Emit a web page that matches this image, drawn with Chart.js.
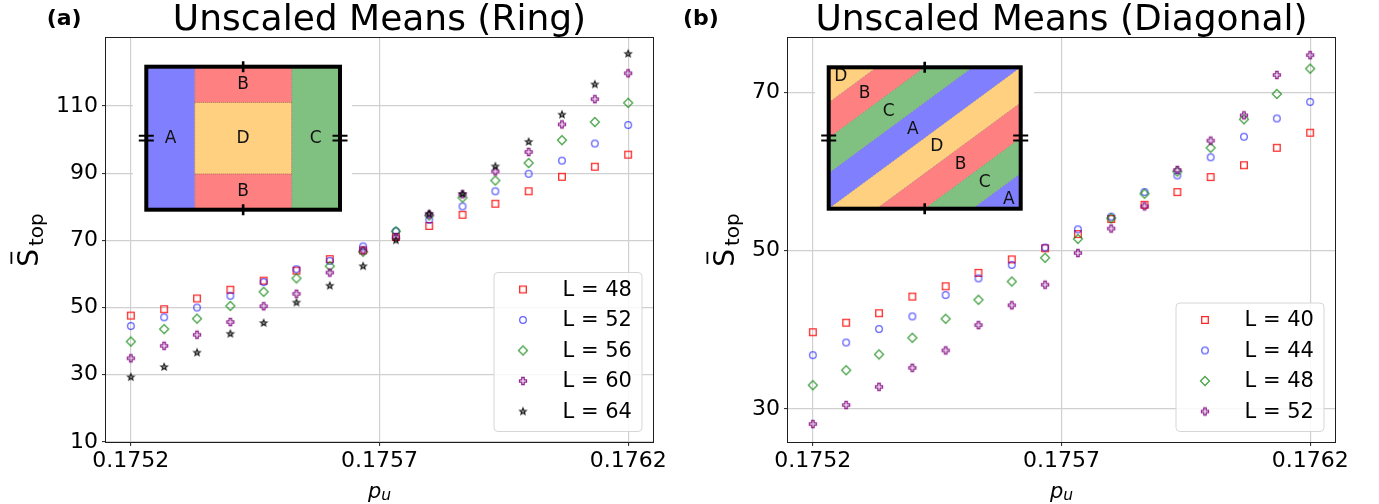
<!DOCTYPE html>
<html>
<head>
<meta charset="utf-8">
<script src="https://cdn.jsdelivr.net/npm/chart.js@4.4.1/dist/chart.umd.min.js"></script>
<style>
  html, body { margin: 0; padding: 0; background: #fff; }
  #wrap { position: relative; width: 1379px; height: 504px; overflow: hidden; background: #fff; }
  #wrap canvas { position: absolute; top: 0; }
</style>
</head>
<body>
<div id="wrap">
  <canvas id="ring" width="670" height="504" style="left:0px"></canvas>
  <canvas id="diag" width="709" height="504" style="left:670px"></canvas>
</div>
<script>
// ---- data -------------------------------------------------------------
const pu = [0.175200, 0.175267, 0.175333, 0.175400, 0.175467, 0.175533, 0.175600, 0.175667,
            0.175733, 0.175800, 0.175867, 0.175933, 0.176000, 0.176067, 0.176133, 0.176200];

// (a) ring geometry
const ringLabels = ['L = 48', 'L = 52', 'L = 56', 'L = 60', 'L = 64'];
const ringL48 = [47.6, 49.5, 52.7, 55.3, 58.0, 61.0, 64.4, 67.0, 71.0, 74.3, 77.6, 80.9, 84.6, 88.9, 91.9, 95.5];
const ringL52 = [44.5, 47.1, 50.0, 53.5, 57.6, 61.4, 63.9, 68.2, 72.7, 76.1, 80.1, 84.6, 89.8, 93.7, 98.8, 104.3];
const ringL56 = [39.9, 43.6, 46.7, 50.5, 54.7, 58.7, 62.3, 66.6, 72.7, 77.4, 82.7, 87.8, 93.0, 99.8, 105.2, 110.9];
const ringL60 = [34.9, 38.6, 41.9, 45.7, 50.4, 54.1, 60.4, 67.0, 71.0, 77.7, 83.7, 90.5, 96.3, 104.5, 112.0, 119.7];
const ringL64 = [29.3, 32.3, 36.6, 42.2, 45.4, 51.5, 56.5, 62.3, 70.0, 77.9, 83.8, 92.0, 99.3, 107.4, 116.4, 125.5];
const ringYTicks = [10, 30, 50, 70, 90, 110];

// (b) diagonal geometry
const diagLabels = ['L = 40', 'L = 44', 'L = 48', 'L = 52'];
const diagL40 = [39.7, 40.9, 42.1, 44.2, 45.5, 47.2, 48.9, 50.3, 52.1, 54.0, 55.8, 57.4, 59.3, 60.8, 63.0, 64.9];
const diagL44 = [36.8, 38.4, 40.1, 41.7, 44.4, 46.5, 48.2, 50.4, 52.7, 54.3, 57.4, 59.5, 61.8, 64.4, 66.7, 68.8];
const diagL48 = [33.0, 34.9, 36.9, 39.0, 41.4, 43.8, 46.1, 49.1, 51.5, 54.1, 57.2, 60.0, 63.0, 66.6, 69.8, 73.0];
const diagL52 = [28.1, 30.5, 32.8, 35.2, 37.4, 40.6, 43.1, 45.7, 49.7, 52.8, 55.6, 60.2, 63.9, 67.1, 72.2, 74.7];
const diagYTicks = [30, 50, 70];

const xTicks = [0.1752, 0.1757, 0.1762];

// ---- styling ----------------------------------------------------------
const FONT = 'DejaVu Sans, Verdana, sans-serif';
Chart.defaults.font.family = FONT;

const STYLE = [
  { kind: 'square',  color: 'rgba(255,0,0,0.85)' },
  { kind: 'circle',  color: 'rgba(0,0,255,0.62)' },
  { kind: 'diamond', color: 'rgba(0,128,0,0.72)' },
  { kind: 'plus',    color: 'rgba(128,0,128,0.85)' },
  { kind: 'star',    color: 'rgba(0,0,0,0.85)' }
];

function traceShape(g, kind, cx, cy) {
  g.beginPath();
  if (kind === 'square') {
    g.rect(cx - 3.3, cy - 3.3, 6.6, 6.6);
  } else if (kind === 'circle') {
    g.arc(cx, cy, 3.3, 0, Math.PI * 2);
  } else if (kind === 'diamond') {
    g.moveTo(cx, cy - 4.5); g.lineTo(cx + 4.5, cy); g.lineTo(cx, cy + 4.5); g.lineTo(cx - 4.5, cy); g.closePath();
  } else if (kind === 'plus') {
    const a = 1.2, e = 3.5;
    const pts = [[-a,-e],[a,-e],[a,-a],[e,-a],[e,a],[a,a],[a,e],[-a,e],[-a,a],[-e,a],[-e,-a],[-a,-a]];
    pts.forEach((p, i) => i ? g.lineTo(cx + p[0], cy + p[1]) : g.moveTo(cx + p[0], cy + p[1]));
    g.closePath();
  } else if (kind === 'star') {
    for (let i = 0; i < 10; i++) {
      const r = i % 2 ? 1.5 : 3.5;
      const ang = -Math.PI / 2 + i * Math.PI / 5;
      const px = cx + r * Math.cos(ang), py = cy + r * Math.sin(ang);
      i ? g.lineTo(px, py) : g.moveTo(px, py);
    }
    g.closePath();
  }
}

function makeMarker(kind, color) {
  const c = document.createElement('canvas');
  c.width = 14; c.height = 14;
  const g = c.getContext('2d');
  g.strokeStyle = color;
  g.lineWidth = kind === 'star' ? 1.1 : 1.3;
  g.lineJoin = 'miter';
  traceShape(g, kind, 7, 7);
  if (kind === 'star') {
    g.fillStyle = 'rgba(60,60,60,0.55)';
    g.fill();
  }
  g.stroke();
  return c;
}
const MARKERS = STYLE.map(s => makeMarker(s.kind, s.color));

// ---- decoration: insets, legend, spines, titles, axis names -----------
const REGION = { A: '#8080ff', B: '#ff8080', C: '#80c080', D: '#ffd080' };

function insetFrame(ctx, bx, by, bw, bh) {
  ctx.strokeStyle = '#000';
  ctx.lineWidth = 4;
  ctx.strokeRect(bx, by, bw, bh);
  // periodic-boundary marks
  ctx.lineWidth = 2.6;
  ctx.beginPath();
  ctx.moveTo(bx + bw / 2, by - 5.5); ctx.lineTo(bx + bw / 2, by + 5.5);
  ctx.moveTo(bx + bw / 2, by + bh - 5.5); ctx.lineTo(bx + bw / 2, by + bh + 5.5);
  ctx.stroke();
  ctx.lineWidth = 2;
  ctx.beginPath();
  [bx, bx + bw].forEach(x => {
    [-2.4, 2.4].forEach(d => {
      ctx.moveTo(x - 7.5, by + bh / 2 + d); ctx.lineTo(x + 7.5, by + bh / 2 + d);
    });
  });
  ctx.stroke();
}

function insetLetter(ctx, t, x, y) {
  ctx.fillStyle = '#111';
  ctx.font = '17px ' + FONT;
  ctx.textAlign = 'center';
  ctx.textBaseline = 'middle';
  ctx.fillText(t, x, y);
}

function drawRingInset(ctx, ca) {
  ctx.save();
  ctx.fillStyle = '#fff';
  ctx.fillRect(ca.left + 27, ca.top + 18, 219, 164);
  const bx = ca.left + 40.3, by = ca.top + 28.7, bw = 193.7, bh = 143;
  const q = f => bx + f * bw, r = f => by + f * bh;
  ctx.fillStyle = REGION.A; ctx.fillRect(bx, by, 0.25 * bw, bh);
  ctx.fillStyle = REGION.C; ctx.fillRect(q(0.75), by, 0.25 * bw, bh);
  ctx.fillStyle = REGION.B; ctx.fillRect(q(0.25), by, 0.5 * bw, bh);
  ctx.fillStyle = REGION.D; ctx.fillRect(q(0.25), r(0.25), 0.5 * bw, 0.5 * bh);
  ctx.strokeStyle = 'rgba(40,40,40,0.6)';
  ctx.lineWidth = 0.7;
  ctx.setLineDash([1, 1]);
  ctx.beginPath();
  ctx.moveTo(q(0.25), by); ctx.lineTo(q(0.25), by + bh);
  ctx.moveTo(q(0.75), by); ctx.lineTo(q(0.75), by + bh);
  ctx.moveTo(q(0.25), r(0.25)); ctx.lineTo(q(0.75), r(0.25));
  ctx.moveTo(q(0.25), r(0.75)); ctx.lineTo(q(0.75), r(0.75));
  ctx.stroke();
  ctx.setLineDash([]);
  insetLetter(ctx, 'A', q(0.125), r(0.5));
  insetLetter(ctx, 'D', q(0.5), r(0.5));
  insetLetter(ctx, 'C', q(0.875), r(0.5));
  insetLetter(ctx, 'B', q(0.5), r(0.125));
  insetLetter(ctx, 'B', q(0.5), r(0.875));
  insetFrame(ctx, bx, by, bw, bh);
  ctx.restore();
}

function drawDiagInset(ctx, ca) {
  ctx.save();
  ctx.fillStyle = '#fff';
  ctx.fillRect(ca.left + 27, ca.top + 18, 219, 164);
  const bx = ca.left + 40.7, by = ca.top + 29.3, bw = 192, bh = 141.4;
  const order = ['D', 'B', 'C', 'A', 'D', 'B', 'C', 'A'];
  ctx.save();
  ctx.beginPath(); ctx.rect(bx, by, bw, bh); ctx.clip();
  // stripes are bands of constant u + v, u = (x-bx)/bw, v = (y-by)/bh
  order.forEach((name, k) => {
    const a = k / 4, b = (k + 1) / 4;
    ctx.fillStyle = REGION[name];
    ctx.beginPath();
    ctx.moveTo(bx + (a + 1) * bw, by - bh);
    ctx.lineTo(bx + (b + 1) * bw, by - bh);
    ctx.lineTo(bx + (b - 2) * bw, by + 2 * bh);
    ctx.lineTo(bx + (a - 2) * bw, by + 2 * bh);
    ctx.closePath();
    ctx.fill();
  });
  ctx.strokeStyle = 'rgba(40,40,40,0.55)';
  ctx.lineWidth = 0.6;
  ctx.setLineDash([1, 1]);
  ctx.beginPath();
  for (let k = 1; k < 8; k++) {
    const c = k / 4;
    ctx.moveTo(bx + (c + 1) * bw, by - bh);
    ctx.lineTo(bx + (c - 2) * bw, by + 2 * bh);
  }
  ctx.stroke();
  ctx.setLineDash([]);
  ctx.restore();
  order.forEach((name, k) => {
    const t = (k + 0.5) / 8;
    insetLetter(ctx, name, bx + t * bw, by + t * bh);
  });
  insetFrame(ctx, bx, by, bw, bh);
  ctx.restore();
}

function drawLegendBox(ctx, ca, labels) {
  const w = 148, rowH = 30.5;
  const h = labels.length * rowH + 6.5;
  const x = ca.right - 11 - w, y = ca.bottom - 10.5 - h;
  ctx.save();
  ctx.beginPath();
  ctx.roundRect(x, y, w, h, 4);
  ctx.fillStyle = 'rgba(255,255,255,0.85)';
  ctx.fill();
  ctx.strokeStyle = '#d6d6d6';
  ctx.lineWidth = 1;
  ctx.stroke();
  ctx.font = '21px ' + FONT;
  ctx.fillStyle = '#000';
  ctx.textAlign = 'left';
  ctx.textBaseline = 'middle';
  labels.forEach((lab, i) => {
    const cy = y + 17 + i * rowH;
    ctx.drawImage(MARKERS[i], x + 29 - 7, cy - 7);
    ctx.fillText(lab, x + 68.5, cy + 1);
  });
  ctx.restore();
}

function drawTexts(ctx, ca, info) {
  ctx.save();
  // spines
  ctx.strokeStyle = '#1e1e1e';
  ctx.lineWidth = 1;
  ctx.strokeRect(Math.round(ca.left) - 0.5, Math.round(ca.top) - 0.5,
                 Math.round(ca.right - ca.left) + 1, Math.round(ca.bottom - ca.top) + 1);
  const cx = (ca.left + ca.right) / 2;
  // title
  ctx.fillStyle = '#000';
  ctx.textBaseline = 'alphabetic';
  ctx.textAlign = 'center';
  ctx.font = '36px ' + FONT;
  ctx.fillText(info.title, cx, 29.5);
  // panel tag
  ctx.textAlign = 'left';
  ctx.font = 'bold 22px ' + FONT;
  ctx.fillText(info.tag, info.tagX, 24.5);
  // x axis name: p_u
  ctx.font = 'italic 21px ' + FONT;
  const pw = ctx.measureText('p').width;
  ctx.font = 'italic 15.5px ' + FONT;
  const uw = ctx.measureText('u').width;
  const x0 = cx - (pw + uw) / 2;
  ctx.font = 'italic 21px ' + FONT;
  ctx.fillText('p', x0, 498.2);
  ctx.font = 'italic 15.5px ' + FONT;
  ctx.fillText('u', x0 + pw, 499.5);
  // y axis name: S-bar with subscript "top"
  const cy = (ca.top + ca.bottom) / 2;
  ctx.translate(ca.left + info.yNameOffset, cy);
  ctx.rotate(-Math.PI / 2);
  ctx.font = '28px ' + FONT;
  const sw = ctx.measureText('S').width;
  ctx.font = '20px ' + FONT;
  const tw = ctx.measureText('top').width;
  const gap = 3;
  const start = -(sw + gap + tw) / 2;
  ctx.font = '28px ' + FONT;
  ctx.fillText('S', start, 0);
  ctx.fillRect(start + sw / 2 - 6, -27.5, 12, 1.8);
  ctx.font = '20px ' + FONT;
  ctx.fillText('top', start + sw + gap, 4.7);
  ctx.restore();
}

const PANELS = {
  ring: { title: 'Unscaled Means (Ring)', tag: '(a)', tagX: 46.7, yNameOffset: -68, labels: ringLabels, inset: drawRingInset },
  diag: { title: 'Unscaled Means (Diagonal)', tag: '(b)', tagX: 13, yNameOffset: -54, labels: diagLabels, inset: drawDiagInset }
};

const decoPlugin = {
  id: 'deco',
  afterDatasetsDraw(chart) {
    const info = PANELS[chart.canvas.id];
    const ctx = chart.ctx;
    info.inset(ctx, chart.chartArea);
    drawLegendBox(ctx, chart.chartArea, info.labels);
  },
  afterDraw(chart) {
    drawTexts(chart.ctx, chart.chartArea, PANELS[chart.canvas.id]);
  }
};

// ---- charts -----------------------------------------------------------
function buildDatasets(series, labels) {
  return series.map((ys, i) => ({
    label: labels[i],
    data: ys.map((y, j) => ({ x: pu[j], y: y })),
    pointStyle: MARKERS[i],
    pointRadius: 4,
    showLine: false,
    order: series.length - i
  }));
}

function makeChart(id, series, labels, yMin, yMax, yTicks, pad) {
  const tickFont = { family: FONT, size: 22 };
  const grid = { color: '#d0d0d0', lineWidth: 1.2, tickColor: '#222', tickLength: 4, tickWidth: 1 };
  return new Chart(document.getElementById(id), {
    type: 'scatter',
    data: { datasets: buildDatasets(series, labels) },
    plugins: [decoPlugin],
    options: {
      responsive: false,
      animation: false,
      events: [],
      layout: { padding: pad },
      plugins: { legend: { display: false }, tooltip: { enabled: false } },
      scales: {
        x: {
          type: 'linear',
          min: 0.17515, max: 0.17625,
          afterBuildTicks: s => { s.ticks = xTicks.map(v => ({ value: v })); },
          afterFit: s => { s.height = 40; },
          ticks: { font: tickFont, color: '#000', padding: 2, maxRotation: 0, autoSkip: false,
                   callback: v => Number(v).toFixed(4) },
          grid: grid,
          border: { display: false }
        },
        y: {
          type: 'linear',
          min: yMin, max: yMax,
          afterBuildTicks: s => { s.ticks = yTicks.map(v => ({ value: v })); },
          afterFit: s => { s.width = 60; },
          ticks: { font: tickFont, color: '#000', padding: 4, autoSkip: false,
                   callback: v => String(v) },
          grid: grid,
          border: { display: false }
        }
      }
    }
  });
}

makeChart('ring', [ringL48, ringL52, ringL56, ringL60, ringL64], ringLabels,
          10, 130.2, ringYTicks, { left: 46, right: 17, top: 38, bottom: 22 });
makeChart('diag', [diagL40, diagL44, diagL48, diagL52], diagLabels,
          25.83, 76.87, diagYTicks, { left: 58, right: 44, top: 38, bottom: 22 });
</script>
</body>
</html>
